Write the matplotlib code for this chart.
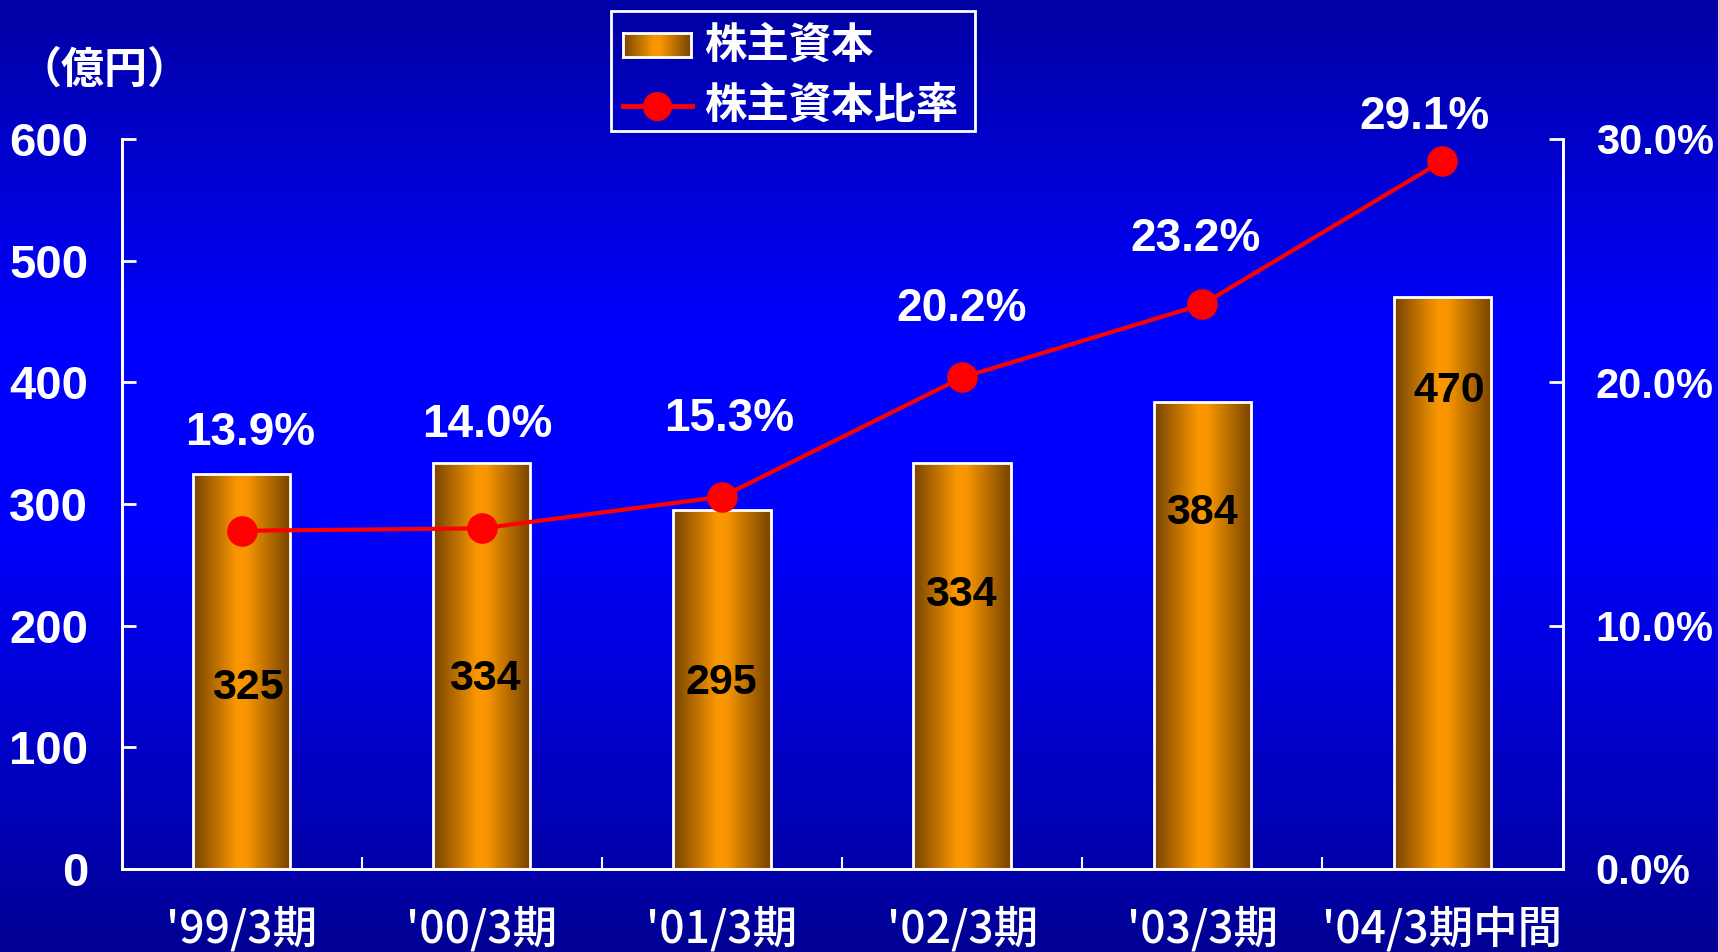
import numpy as np
import matplotlib
matplotlib.use("Agg")
import matplotlib.pyplot as plt
from matplotlib.colors import LinearSegmentedColormap
from matplotlib.patches import Rectangle
from matplotlib.lines import Line2D

categories = ["'99/3期", "'00/3期", "'01/3期", "'02/3期", "'03/3期", "'04/3期中間"]
equity = [325, 334, 295, 334, 384, 470]
ratio = [13.9, 14.0, 15.3, 20.2, 23.2, 29.1]
ratio_labels = ["13.9%", "14.0%", "15.3%", "20.2%", "23.2%", "29.1%"]
left_ticks = [0, 100, 200, 300, 400, 500, 600]
right_ticks = [0, 10, 20, 30]
right_tick_labels = ["0.0%", "10.0%", "20.0%", "30.0%"]
legend_labels = ["株主資本", "株主資本比率"]
unit_label = "（億円）"

# label placement (data coords)
val_lbl_x = [0.027, 1.012, 1.997, 2.996, 4.0, 5.03]
val_lbl_y = [149, 156, 153, 225, 293, 393]
pct_lbl_x = [0.036, 1.021, 2.029, 2.996, 3.972, 4.925]
pct_lbl_y = [17.9, 18.25, 18.5, 23.0, 25.9, 30.9]

NUM = ["Liberation Sans", "DejaVu Sans"]
CJK = ["Noto Sans CJK JP", "DejaVu Sans"]

W, H = 1718, 952
fig = plt.figure(figsize=(W / 100, H / 100), dpi=100)

# background gradient
bg = fig.add_axes([0, 0, 1, 1], zorder=-10)
bg.set_axis_off()
bg_cmap = LinearSegmentedColormap.from_list(
    "bg", [(0.0, (0, 0, 0.64)), (0.35, (0, 0, 1.0)), (0.55, (0, 0, 1.0)), (1.0, (0, 0, 0.58))])
grad = np.linspace(0, 1, 256).reshape(-1, 1)
bg.imshow(grad, cmap=bg_cmap, aspect="auto", extent=[0, 1, 0, 1], origin="upper")
bg.set_xlim(0, 1); bg.set_ylim(0, 1)

ax = fig.add_axes([121.6 / W, 1 - 869 / H, (1562.5 - 121.6) / W, (869 - 139) / H])
ax.set_facecolor("none")
ax2 = ax.twinx()

bar_cmap = LinearSegmentedColormap.from_list(
    "bar", [(0.0, "#774400"), (0.45, "#FA9700"), (0.55, "#F89500"), (1.0, "#774400")])
hgrad = np.linspace(0, 1, 256).reshape(1, -1)
x = np.arange(len(categories))
bw = 0.405
bars = ax.bar(x, equity, width=bw, facecolor="none", edgecolor="white", linewidth=2, zorder=3)
for b in bars:
    im = ax.imshow(hgrad, cmap=bar_cmap, aspect="auto",
                   extent=[b.get_x(), b.get_x() + b.get_width(), 0, b.get_height()],
                   zorder=2, interpolation="bilinear")
    im.set_clip_path(b)

for xi, yi, v in zip(val_lbl_x, val_lbl_y, equity):
    ax.text(xi, yi, str(v), ha="center", va="center", fontsize=31, fontweight="bold",
            family=NUM, color="black", zorder=5)

ax.set_xlim(-0.5, len(categories) - 0.5)
ax.set_ylim(0, 600)
ax.set_yticks(left_ticks)
ax.set_yticklabels([str(t) for t in left_ticks], fontsize=34, fontweight="bold", family=NUM, color="white")
ax.set_xticks(x)
ax.set_xticklabels(categories, fontsize=32, fontweight="medium", family=CJK, color="white")
ax.set_xticks(np.arange(0.5, len(categories) - 0.5, 1), minor=True)
ax.tick_params(axis="x", which="major", length=0, pad=27)
ax.tick_params(axis="x", which="minor", length=9, width=1.5, direction="in", color="white")
ax.tick_params(axis="y", length=10, width=2, direction="in", color="white", pad=24)
for s in ["left", "bottom", "right"]:
    ax.spines[s].set_color("white")
    ax.spines[s].set_linewidth(2)
ax.spines["top"].set_visible(False)

ax2.plot(x, ratio, color="#FF0000", lw=3, marker="o", markersize=21, zorder=6)
ax2.set_ylim(0, 30)
ax2.set_yticks(right_ticks)
ax2.set_yticklabels(right_tick_labels, fontsize=30, fontweight="bold", family=NUM, color="white")
ax2.tick_params(axis="y", length=10, width=2, direction="in", color="white", pad=24)
for s in ["left", "bottom", "right"]:
    ax2.spines[s].set_color("white")
    ax2.spines[s].set_linewidth(2)
ax2.spines["top"].set_visible(False)
for xi, yi, t in zip(pct_lbl_x, pct_lbl_y, ratio_labels):
    ax2.text(xi, yi, t, ha="center", va="center", fontsize=33, fontweight="bold",
             family=NUM, color="white", zorder=7)

# unit label
fig.text(18 / W, 1 - 70 / H, unit_label, ha="left", va="center", fontsize=31,
         fontweight="bold", family=CJK, color="white")

# manual legend
fig.add_artist(Rectangle((611 / W, 1 - 131 / H), (975 - 611) / W, (131 - 11) / H,
                         transform=fig.transFigure, facecolor="none", edgecolor="white", lw=2))
lax = fig.add_axes([623 / W, 1 - 57 / H, (691 - 623) / W, (57 - 33) / H])
lax.imshow(hgrad, cmap=bar_cmap, aspect="auto", extent=[0, 1, 0, 1])
lax.set_xticks([]); lax.set_yticks([])
for s in lax.spines.values():
    s.set_color("white"); s.set_linewidth(2)
fig.add_artist(Line2D([623 / W, 692 / W], [1 - 106 / H, 1 - 106 / H], transform=fig.transFigure,
                      color="#FF0000", lw=3.5))
fig.add_artist(Line2D([657 / W], [1 - 106 / H], transform=fig.transFigure,
                      color="#FF0000", marker="o", markersize=20, lw=0))
fig.text(704 / W, 1 - 46 / H, legend_labels[0], ha="left", va="center", fontsize=30.5,
         fontweight="bold", family=CJK, color="white")
fig.text(704 / W, 1 - 106 / H, legend_labels[1], ha="left", va="center", fontsize=30.5,
         fontweight="bold", family=CJK, color="white")

fig.savefig("out.png", dpi=100)
